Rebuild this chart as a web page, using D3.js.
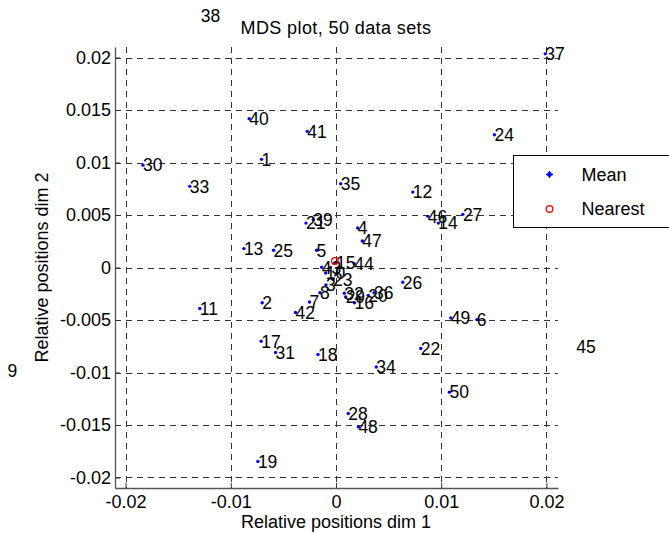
<!DOCTYPE html>
<html>
<head>
<meta charset="utf-8">
<script src="https://cdn.jsdelivr.net/npm/d3@7"></script>
<style>
  html, body { margin: 0; padding: 0; background: #fff; }
  svg text { font-family: "Liberation Sans", Arial, sans-serif; font-size: 18px; fill: #000; }
</style>
</head>
<body>
<div id="chart"></div>
<script>
// MDS positions of the 50 data sets (dim 1, dim 2)
const setIds = d3.range(1, 51);
const dim1 = [
  -0.00707, -0.00701, -0.00095, 0.00206, -0.00184, 0.01339, -0.00252, -0.00152, -0.03121, -0.00098,
  -0.01294, 0.00730, -0.00875, 0.00973, 0.00000, 0.00176, -0.00711, -0.00171, -0.00742, 0.00307,
  -0.00285, 0.00806, -0.00029, 0.01506, -0.00593, 0.00635, 0.01206, 0.00117, 0.00092, -0.01834,
  -0.00574, 0.00079, -0.01389, 0.00383, 0.00045, 0.00362, 0.01989, -0.01285, -0.00216, -0.00825,
  -0.00273, -0.00385, -0.00136, 0.00174, 0.02284, 0.00873, 0.00250, 0.00213, 0.01091, 0.01078
];
const dim2 = [
  0.01030, -0.00336, -0.00165, 0.00376, 0.00164, -0.00496, -0.00329, -0.00241, -0.00987, -0.00052,
  -0.00391, 0.00718, 0.00180, 0.00423, 0.00045, -0.00336, -0.00702, -0.00829, -0.01847, -0.00265,
  0.00423, -0.00772, -0.00112, 0.01265, 0.00164, -0.00141, 0.00506, -0.01390, -0.00281, 0.00975,
  -0.00810, -0.00245, 0.00773, -0.00947, 0.00798, -0.00241, 0.02035, 0.02400, 0.00456, 0.01417,
  0.01296, -0.00428, 0.00002, 0.00037, -0.00750, 0.00487, 0.00252, -0.01518, -0.00480, -0.01187
];
const nearest = [-0.0001, 0.00062];
const tickVals = [-0.02, -0.01, 0, 0.01, 0.02];
const yTickVals = [-0.02, -0.015, -0.01, -0.005, 0, 0.005, 0.01, 0.015, 0.02];
const legendLabels = ['Mean', 'Nearest'];

const width = 669, height = 533;
const pLeft = 115, pRight = 558, pTop = 47, pBottom = 488;

const x = d3.scaleLinear().domain([-0.021, 0.0211]).range([pLeft, pRight]);
const y = d3.scaleLinear().domain([-0.021, 0.021]).range([pBottom, pTop]);

const svg = d3.select('#chart').append('svg')
  .attr('width', width)
  .attr('height', height);

svg.append('defs').append('clipPath').attr('id', 'plotClip')
  .append('rect')
  .attr('x', pLeft).attr('y', pTop)
  .attr('width', pRight - pLeft).attr('height', pBottom - pTop);

// grid
const grid = svg.append('g')
  .attr('stroke', '#333')
  .attr('stroke-width', 1)
  .attr('stroke-dasharray', '6,5');

grid.selectAll('line.v')
  .data(tickVals)
  .join('line')
  .attr('class', 'v')
  .attr('x1', d => Math.round(x(d)) + 0.5).attr('x2', d => Math.round(x(d)) + 0.5)
  .attr('y1', pTop).attr('y2', pBottom);

grid.selectAll('line.h')
  .data(yTickVals)
  .join('line')
  .attr('class', 'h')
  .attr('x1', pLeft).attr('x2', pRight)
  .attr('y1', d => Math.round(y(d)) + 0.5).attr('y2', d => Math.round(y(d)) + 0.5);

// axes (left + bottom only), ticks inward
const fmt = d => d === 0 ? '0' : String(+d.toFixed(3));
const xAxis = d3.axisBottom(x).tickValues(tickVals).tickSizeInner(-5).tickSizeOuter(0).tickFormat(fmt);
const yAxis = d3.axisLeft(y).tickValues(yTickVals).tickSizeInner(-5).tickSizeOuter(0)
  .tickPadding(4).tickFormat(fmt);

const gx = svg.append('g').attr('transform', `translate(0,${pBottom})`).call(xAxis);
const gy = svg.append('g').attr('transform', `translate(${pLeft},0)`).call(yAxis);

[gx, gy].forEach(g => {
  g.attr('font-family', null).attr('font-size', null);
  g.select('.domain').attr('stroke', '#555').attr('stroke-width', 1.3);
  g.selectAll('.tick line').attr('stroke', '#333');
  g.selectAll('.tick text').attr('fill', '#000');
});
gx.selectAll('.tick text').attr('dy', null).attr('y', 20);

// points
const pts = setIds.map((id, i) => ({ id, v1: dim1[i], v2: dim2[i] }));

svg.append('g')
  .attr('clip-path', 'url(#plotClip)')
  .selectAll('circle')
  .data(pts)
  .join('circle')
  .attr('cx', d => x(d.v1))
  .attr('cy', d => y(d.v2))
  .attr('r', 1.7)
  .attr('fill', '#0000ff');

// labels (not clipped, like MATLAB text)
svg.append('g')
  .selectAll('text')
  .data(pts)
  .join('text')
  .attr('x', d => x(d.v1))
  .attr('y', d => y(d.v2))
  .attr('dy', '0.36em')
  .style('font-size', '17.5px')
  .text(d => d.id);

// nearest
svg.append('circle')
  .attr('cx', x(nearest[0]))
  .attr('cy', y(nearest[1]))
  .attr('r', 3.3)
  .attr('fill', 'none')
  .attr('stroke', '#ff0000')
  .attr('stroke-width', 1.3);

// title and axis labels
svg.append('text')
  .attr('x', x(0)).attr('y', 34)
  .attr('text-anchor', 'middle')
  .style('letter-spacing', '0.4px')
  .text('MDS plot, 50 data sets');

svg.append('text')
  .attr('x', x(0)).attr('y', 528)
  .attr('text-anchor', 'middle')
  .text('Relative positions dim 1');

svg.append('text')
  .attr('transform', `translate(48,${y(0)}) rotate(-90)`)
  .attr('text-anchor', 'middle')
  .text('Relative positions dim 2');

// legend
const lg = svg.append('g').attr('transform', 'translate(513.5,155.5)');
lg.append('rect')
  .attr('width', 200).attr('height', 72)
  .attr('fill', '#fff').attr('stroke', '#000').attr('stroke-width', 1);

const mean = lg.append('g').attr('transform', 'translate(36,19)');
mean.append('circle').attr('r', 2.4).attr('fill', '#0000ff');
mean.append('path').attr('d', 'M-3.5,0H3.5M0,-3.5V3.5').attr('stroke', '#0000ff').attr('stroke-width', 1.3);

lg.append('circle')
  .attr('cx', 36).attr('cy', 53.5).attr('r', 3.3)
  .attr('fill', 'none').attr('stroke', '#ff0000').attr('stroke-width', 1.3);

lg.selectAll('text.lab')
  .data(legendLabels)
  .join('text')
  .attr('class', 'lab')
  .attr('x', 68)
  .attr('y', (d, i) => 19 + i * 34.5)
  .attr('dy', '0.36em')
  .text(d => d);
</script>
</body>
</html>
